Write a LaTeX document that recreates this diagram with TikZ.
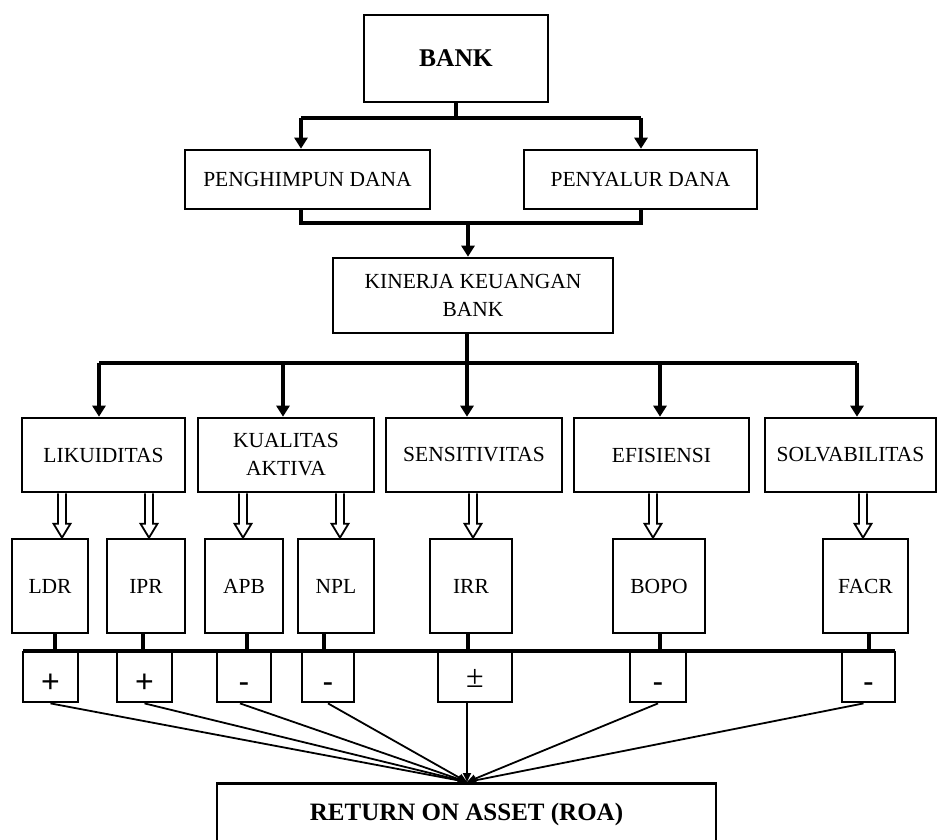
\documentclass[tikz,border=0pt]{standalone}
\usepackage{fontspec}
\setmainfont{Liberation Serif}
\newfontfamily\signfont{Liberation Sans}
\usetikzlibrary{arrows.meta}
\tikzset{
  box/.style={draw, line width=2.6pt, inner sep=0pt, align=center, font=\fontsize{21.5}{28}\selectfont},
  conn/.style={line width=4pt, line join=miter},
  arr/.style={line width=4pt, -{Triangle[width=13pt,length=11pt]}},
  hol/.style={line width=1.8pt, line join=miter},
  fan/.style={line width=1.8pt, -{Triangle[width=8pt,length=9pt]}},
  sign/.style={draw, line width=2.4pt, inner sep=0pt, anchor=north, minimum height=50pt, text height=30pt, text depth=0pt, font=\signfont\fontsize{32}{32}\selectfont},
  stem/.style={line width=4pt}
}
\newcommand\holarrow[3]{%
  \coordinate (ha) at (#1.south -| #3);
  \coordinate (hb) at (#2.north -| #3);
  \draw[hol] ([xshift=-4pt]ha) -- ([xshift=-4pt,yshift=14pt]hb) -- ([xshift=-8.5pt,yshift=14pt]hb) -- (hb)
     -- ([xshift=8.5pt,yshift=14pt]hb) -- ([xshift=4pt,yshift=14pt]hb) -- ([xshift=4pt]ha);
}
\begin{document}
\begin{tikzpicture}[x=1pt,y=-1pt]
\useasboundingbox (0,0) rectangle (937,840);
\clip (0,0) rectangle (937,840);

% ---- boxes
\node[box, minimum width=184pt, minimum height=87pt] (bank) at (456,58.5) {\bfseries\fontsize{25.5}{25.5}\selectfont BANK};
\node[box, minimum width=245pt, minimum height=59pt] (peng) at (307.5,179.5) {PENGHIMPUN DANA};
\node[box, minimum width=233pt, minimum height=59pt] (peny) at (640.5,179.5) {PENYALUR DANA};
\node[box, minimum width=280pt, minimum height=75pt] (kin) at (473,295.5) {KINERJA KEUANGAN\\BANK};

\node[box, minimum width=163pt, minimum height=74pt] (lik) at (103.5,455) {LIKUIDITAS};
\node[box, minimum width=176pt, minimum height=74pt] (kual) at (286,455) {KUALITAS\\AKTIVA};
\node[box, minimum width=176pt, minimum height=74pt] (sens) at (474,455) {SENSITIVITAS};
\node[box, minimum width=175pt, minimum height=74pt] (efi) at (661.5,455) {EFISIENSI};
\node[box, minimum width=171pt, minimum height=74pt] (solv) at (850.5,455) {SOLVABILITAS};

\node[box, minimum width=76pt, minimum height=94pt] (ldr) at (50,586) {LDR};
\node[box, minimum width=78pt, minimum height=94pt] (ipr) at (146,586) {IPR};
\node[box, minimum width=78pt, minimum height=94pt] (apb) at (244,586) {APB};
\node[box, minimum width=76pt, minimum height=94pt] (npl) at (336,586) {NPL};
\node[box, minimum width=82pt, minimum height=94pt] (irr) at (471,586) {IRR};
\node[box, minimum width=92pt, minimum height=94pt] (bopo) at (659,586) {BOPO};
\node[box, minimum width=85pt, minimum height=94pt] (facr) at (865.5,586) {FACR};

\node[sign, minimum width=55pt] (s1) at (50.5,651) {+};
\node[sign, minimum width=55pt] (s2) at (144.5,651) {+};
\node[sign, minimum width=54pt] (s3) at (244,651) {-};
\node[sign, minimum width=52pt] (s4) at (328,651) {-};
\node[sign, minimum width=74pt, text height=20pt, font=\fontsize{32}{32}\selectfont] (s5) at (475,651) {±};
\node[sign, minimum width=56pt] (s6) at (658,651) {-};
\node[sign, minimum width=53pt] (s7) at (868.5,651) {-};

\node[box, anchor=north, minimum width=499pt, minimum height=62pt] (roa) at (466.5,782) {\bfseries\fontsize{25}{25}\selectfont RETURN ON ASSET (ROA)};

% ---- column coordinates
\coordinate (pL) at (301,118);
\coordinate (pR) at (641,118);
\coordinate (qL) at (301,223);
\coordinate (qR) at (641,223);
\coordinate (qM) at (468,223);
\coordinate (hL) at (99,363);
\coordinate (hR) at (857,363);
\coordinate (c283) at (283,363);
\coordinate (c467) at (467,363);
\coordinate (c660) at (660,363);

% ---- top connectors
\draw[conn] (bank.south) -- (bank.south |- pL);
\draw[conn] (pL) -- (pR);
\draw[arr] (pL) -- (peng.north -| pL);
\draw[arr] (pR) -- (peny.north -| pR);
\draw[conn] (peng.south -| qL) -- (qL) -- (qR) -- (peny.south -| qR);
\draw[arr] (qM) -- (kin.north -| qM);

% ---- distribution to level 3
\draw[conn] (kin.south -| c467) -- (c467);
\draw[conn] (hL) -- (hR);
\draw[arr] (hL) -- (lik.north -| hL);
\draw[arr] (c283) -- (kual.north -| c283);
\draw[arr] (c467) -- (sens.north -| c467);
\draw[arr] (c660) -- (efi.north -| c660);
\draw[arr] (hR) -- (solv.north -| hR);

% ---- hollow double arrows
\coordinate (x62) at (62,0);
\coordinate (x149) at (149,0);
\coordinate (x243) at (243,0);
\coordinate (x340) at (340,0);
\coordinate (x473) at (473,0);
\coordinate (x653) at (653,0);
\coordinate (x863) at (863,0);
\holarrow{lik}{ldr}{x62}
\holarrow{lik}{ipr}{x149}
\holarrow{kual}{apb}{x243}
\holarrow{kual}{npl}{x340}
\holarrow{sens}{irr}{x473}
\holarrow{efi}{bopo}{x653}
\holarrow{solv}{facr}{x863}

% ---- stems and bus
\coordinate (busL) at (23,651);
\coordinate (busR) at (895,651);
\coordinate (x55) at (55,0);
\coordinate (x143) at (143,0);
\coordinate (x247) at (247,0);
\coordinate (x324) at (324,0);
\coordinate (x468) at (468,0);
\coordinate (x660) at (660,0);
\coordinate (x869) at (869,0);
\draw[stem] (ldr.south -| x55) -- (busL -| x55);
\draw[stem] (ipr.south -| x143) -- (busL -| x143);
\draw[stem] (apb.south -| x247) -- (busL -| x247);
\draw[stem] (npl.south -| x324) -- (busL -| x324);
\draw[stem] (irr.south -| x468) -- (busL -| x468);
\draw[stem] (bopo.south -| x660) -- (busL -| x660);
\draw[stem] (facr.south -| x869) -- (busL -| x869);
\draw[line width=3.5pt] (busL) -- (busR);

% ---- fan to ROA
\coordinate (x467) at (467,0);
\coordinate (tip) at (roa.north -| x467);
\draw[fan] (s1.south) -- (tip);
\draw[fan] (s2.south) -- (tip);
\draw[fan] ([xshift=-4pt]s3.south) -- (tip);
\draw[fan] (s4.south) -- (tip);
\draw[fan] (s5.south -| x467) -- (tip);
\draw[fan] (s6.south) -- (tip);
\draw[fan] ([xshift=-5pt]s7.south) -- (tip);
\end{tikzpicture}
\end{document}
